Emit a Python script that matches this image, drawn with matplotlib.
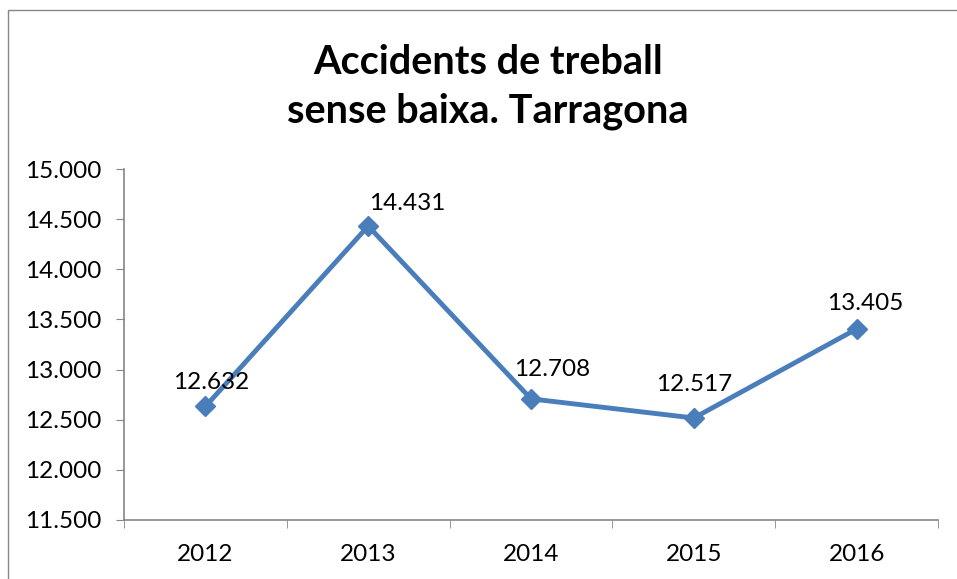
import matplotlib
matplotlib.use("Agg")
import matplotlib.pyplot as plt
from matplotlib.patches import Rectangle
from matplotlib.ticker import FuncFormatter, MultipleLocator, FixedLocator

plt.rcParams['font.family'] = ['Lato', 'DejaVu Sans']

# dades
anys = ['2012', '2013', '2014', '2015', '2016']
accidents = [12632, 14431, 12708, 12517, 13405]
titol = "Accidents de treball\nsense baixa. Tarragona"

# desplaçament de les etiquetes (px)
offsets = [(6, 24), (39, 23), (21, 29), (0, 34), (9, 25)]

fig = plt.figure(figsize=(9.57, 5.79), dpi=100)
fig.patches.append(Rectangle((8 / 957, -0.1), 1.2, 1.1 - 10 / 579 + 0.0,
                             transform=fig.transFigure, fill=False,
                             edgecolor='#868686', linewidth=1.0))
ax = fig.add_axes([124 / 957, 1 - 520 / 579, (938 - 124) / 957, (520 - 169) / 579])

x = list(range(len(anys)))
ax.plot(x, accidents, color='#4A7EBB', linewidth=3.5, marker='D', markersize=10,
        markerfacecolor='#4A7EBB', markeredgecolor='#4A7EBB', zorder=3)

for xi, v, (dx, dy) in zip(x, accidents, offsets):
    ax.annotate(f"{v:,}".replace(",", "."), (xi, v), xytext=(dx * 0.72, dy * 0.72),
                textcoords='offset points', ha='center', va='center', fontsize=17.5)

ax.set_xlim(-0.5, len(anys) - 0.5)
ax.set_ylim(11500, 15000)
ax.yaxis.set_major_locator(MultipleLocator(500))
ax.yaxis.set_major_formatter(FuncFormatter(lambda v, p: f"{int(v):,}".replace(",", ".")))
ax.set_xticks(x)
ax.set_xticklabels(anys)
ax.xaxis.set_minor_locator(FixedLocator([i - 0.5 for i in range(len(anys) + 1)]))
ax.tick_params(axis='x', which='major', length=0, pad=17, labelsize=17.5)
ax.tick_params(axis='x', which='minor', length=6, direction='out', color='#868686')
ax.tick_params(axis='y', length=6, direction='out', color='#868686', labelsize=17.5, pad=10)

for s in ['top', 'right']:
    ax.spines[s].set_visible(False)
for s in ['left', 'bottom']:
    ax.spines[s].set_color('#868686')
    ax.spines[s].set_linewidth(1.2)

fig.text(488 / 957, 1 - 87 / 579, titol, ha='center', va='center', fontsize=28.5,
         fontweight='bold', linespacing=1.38)

fig.savefig("out.png", dpi=100)
